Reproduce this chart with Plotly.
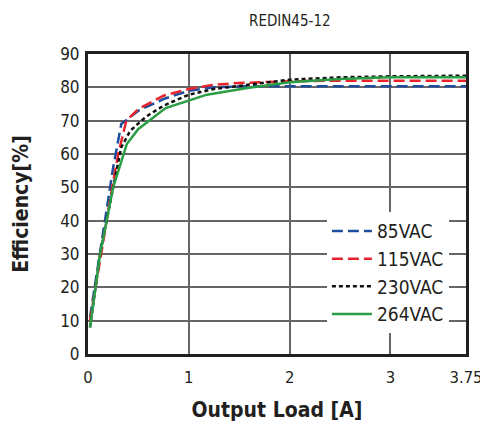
import plotly.graph_objects as go

load_85 = [0.02, 0.10, 0.17, 0.25, 0.33, 0.50, 0.75, 1.00, 1.25, 1.50, 2.00, 2.50, 3.00, 3.75]
eff_85 = [11, 27, 41, 56, 69, 73, 76.5, 79, 80, 80.3, 80.3, 80.3, 80.3, 80.3]

load_115 = [0.02, 0.10, 0.24, 0.30, 0.38, 0.50, 0.75, 1.00, 1.25, 1.50, 2.00, 2.50, 3.00, 3.75]
eff_115 = [10, 25, 50, 60, 70, 73.5, 77.5, 79.5, 80.8, 81.3, 81.8, 82, 82, 82]

load_230 = [0.02, 0.12, 0.25, 0.33, 0.42, 0.58, 0.75, 1.00, 1.25, 1.50, 2.00, 2.50, 3.00, 3.75]
eff_230 = [8, 30, 50, 62, 67, 71.3, 74.5, 77.8, 79.5, 80.5, 82.3, 83, 83.3, 83.5]

load_264 = [0.02, 0.12, 0.25, 0.385, 0.50, 0.77, 1.18, 1.58, 2.00, 2.50, 3.00, 3.75]
eff_264 = [8, 30, 50, 63, 67.5, 73.8, 77.8, 79.8, 81.5, 82.5, 83, 83]

x_ticks = [0, 1, 2, 3, 3.75]
x_tick_labels = ["0", "1", "2", "3", "3.75"]
y_ticks = [0, 10, 20, 30, 40, 50, 60, 70, 80, 90]

series = [
    ("85VAC", load_85, eff_85, "#1f4e9c", "11px,5px"),
    ("115VAC", load_115, eff_115, "#e8232b", "11px,5px"),
    ("230VAC", load_230, eff_230, "#111111", "4px,3px"),
    ("264VAC", load_264, eff_264, "#2a9d45", "solid"),
]

fig = go.Figure()
for name, xs, ys, col, dash in series:
    fig.add_trace(go.Scatter(x=xs, y=ys, mode="lines", name=name,
                             line=dict(color=col, width=2.5, dash=dash)))

font_fam = "DejaVu Sans Condensed, Roboto, Arial"
fig.update_layout(
    width=488, height=428,
    margin=dict(l=80, r=30, t=46, b=82, autoexpand=False),
    paper_bgcolor="white", plot_bgcolor="white",
    font=dict(family=font_fam, color="#231f20", size=16),
    showlegend=True,
    legend=dict(x=0.632, y=0.473, xanchor="left", yanchor="top",
                bgcolor="white", borderwidth=0,
                font=dict(size=19, family=font_fam),
                itemwidth=40, tracegroupgap=0),
    annotations=[dict(text="REDIN45-12", x=0.534, y=1.0, xref="paper", yref="paper",
                      yanchor="bottom", yshift=22, showarrow=False,
                      font=dict(size=15, family=font_fam))],
)
fig.update_xaxes(range=[0, 3.75], tickvals=x_ticks, ticktext=x_tick_labels,
                 showgrid=True, gridcolor="#666666", gridwidth=1.5,
                 showline=True, linecolor="#231f20", linewidth=3, mirror=True,
                 zeroline=False, ticks="", tickfont=dict(size=16.5), automargin=False,
                 ticklabelstandoff=6,
                 title=dict(text="<b>Output Load [A]</b>", font=dict(size=21), standoff=17))
fig.update_yaxes(range=[0, 90], tickvals=y_ticks,
                 showgrid=True, gridcolor="#666666", gridwidth=1.5,
                 showline=True, linecolor="#231f20", linewidth=3, mirror=True,
                 zeroline=False, ticks="", tickfont=dict(size=17), automargin=False,
                 ticklabelstandoff=2,
                 title=dict(text="<b>Efficiency[%]</b>", font=dict(size=21), standoff=26))

fig.write_html("out.html")
